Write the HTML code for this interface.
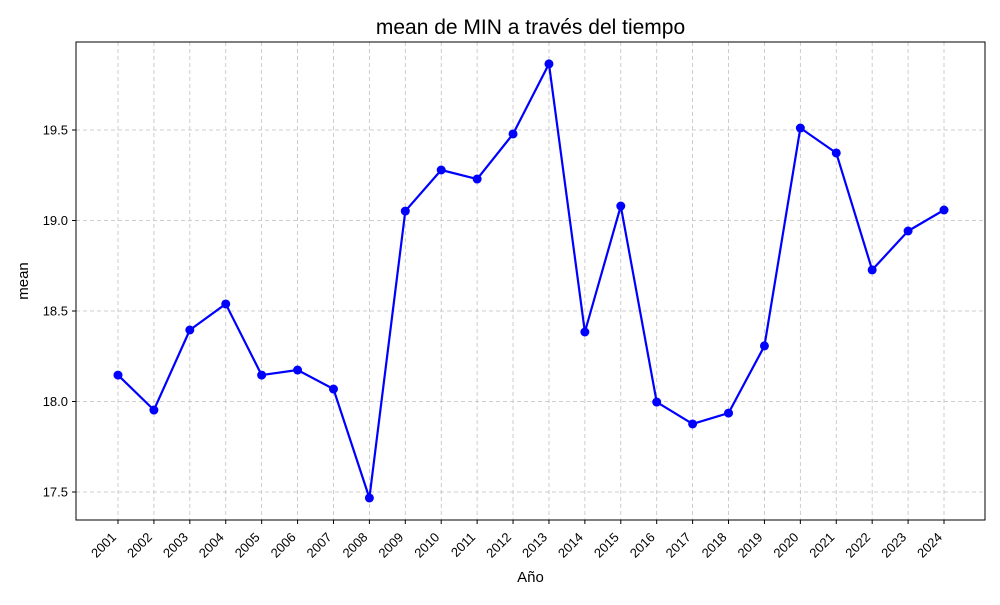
<!DOCTYPE html>
<html><head><meta charset="utf-8"><style>
body{margin:0;background:#fff;}
svg text{font-family:"Liberation Sans","DejaVu Sans",sans-serif;fill:#000;}
</style></head><body>
<svg id="chart" width="1000" height="600"></svg>
<script>
const years=[2001,2002,2003,2004,2005,2006,2007,2008,2009,2010,2011,2012,2013,2014,2015,2016,2017,2018,2019,2020,2021,2022,2023,2024];
const means=[18.146,17.953,18.395,18.539,18.146,18.174,18.069,17.467,19.052,19.279,19.229,19.478,19.865,18.384,19.080,17.997,17.876,17.936,18.307,19.511,19.373,18.727,18.942,19.058];
const yTicks=[17.5,18.0,18.5,19.0,19.5];
const yTickLabels=["17.5","18.0","18.5","19.0","19.5"];
const L=76,R=985,T=42,B=520;
const x0=118,x1=944;
function xs(yr){return x0+(yr-years[0])*(x1-x0)/(years[years.length-1]-years[0]);}
function ys(v){return 492-(v-17.5)*181;}
const svg=document.getElementById('chart');
const NS='http://www.w3.org/2000/svg';
function mk(tag,attrs,parent){const e=document.createElementNS(NS,tag);for(const k in attrs)e.setAttribute(k,attrs[k]);(parent||svg).appendChild(e);return e;}
years.forEach(yr=>{const g=mk('line',{x1:xs(yr),x2:xs(yr),y1:T,y2:B,stroke:'#c0c0c0','stroke-dasharray':'4,3','stroke-width':0.8});

});
yTicks.forEach(v=>{const g=mk('line',{x1:L,x2:R,y1:ys(v),y2:ys(v),stroke:'#c0c0c0','stroke-dasharray':'4,3','stroke-width':0.8});

});
yTicks.forEach((v,i)=>{mk('line',{x1:L-4,x2:L,y1:ys(v),y2:ys(v),stroke:'#000'});
const t=mk('text',{x:L-8,y:ys(v)+4.5,'text-anchor':'end','font-size':13});t.textContent=yTickLabels[i];

});
years.forEach(yr=>{mk('line',{x1:xs(yr),x2:xs(yr),y1:B,y2:B+4,stroke:'#000'});
const x=xs(yr)-1,y=B+18;
const t=mk('text',{x:x,y:y,'text-anchor':'end','font-size':13,transform:`rotate(-45 ${x} ${y})`});t.textContent=yr;

});
const f=mk('rect',{x:L,y:T,width:R-L,height:B-T,fill:'none',stroke:'#000','stroke-width':1});


const pl=mk('polyline',{points:years.map((yr,i)=>xs(yr)+','+ys(means[i])).join(' '),fill:'none',stroke:'#0000ff','stroke-width':2.2,'stroke-linejoin':'round'});


years.forEach((yr,i)=>{const c=mk('circle',{cx:xs(yr),cy:ys(means[i]),r:4.5,fill:'#0000ff'});

});
let t=mk('text',{x:530.5,y:34,'text-anchor':'middle','font-size':21});t.textContent='mean de MIN a través del tiempo';


t=mk('text',{x:530.5,y:582,'text-anchor':'middle','font-size':15});t.textContent='Año';


t=mk('text',{x:28,y:281,'text-anchor':'middle','font-size':15,transform:'rotate(-90 28 281)'});t.textContent='mean';


</script>
</body></html>
